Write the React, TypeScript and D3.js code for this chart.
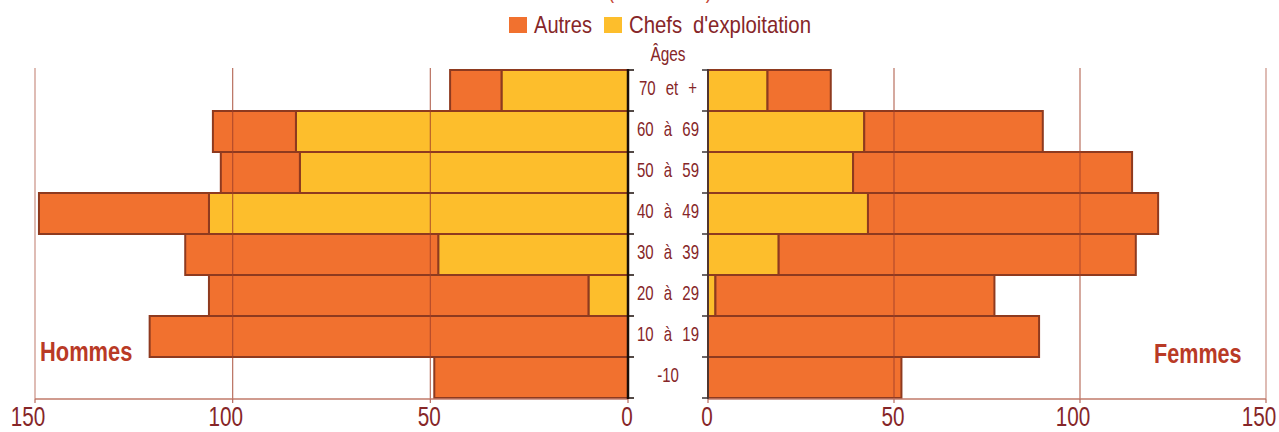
import React from "react";
import * as d3 from "d3";

const ages = ["70 et +", "60 à 69", "50 à 59", "40 à 49", "30 à 39", "20 à 29", "10 à 19", "-10"];
const hommesChefs = [32, 84, 83, 106, 48, 10, 0, 0];
const hommesAutres = [13, 21, 20, 43, 64, 96, 121, 49];
const femmesChefs = [16, 42, 39, 43, 19, 2, 0, 0];
const femmesAutres = [17, 48, 75, 78, 96, 75, 89, 52];
const xTicks = [0, 50, 100, 150];
const legendLabels = ["Autres", "Chefs d'exploitation"];
const titleText = "(en nombre)";

const W = 1279;
const H = 432;
const ORANGE = "#f1712f";
const YELLOW = "#fdbe2c";
const STROKE = "#8e3a1f";
const TXT = "#862628";
const RED = "#b93a26";
const FONT = "'Liberation Sans', Arial, sans-serif";

type TProps = {
  x: number;
  y: number;
  sx: number;
  size: number;
  anchor?: string;
  fill?: string;
  bold?: boolean;
  ws?: number;
  children: React.ReactNode;
};

function T({ x, y, sx, size, anchor = "start", fill = TXT, bold = false, ws = 0, children }: TProps) {
  return (
    <text
      transform={`translate(${x},${y}) scale(${sx},1)`}
      textAnchor={anchor}
      fontFamily={FONT}
      fontSize={size}
      fontWeight={bold ? "bold" : "normal"}
      fill={fill}
      wordSpacing={ws}
    >
      {children}
    </text>
  );
}

export default function App() {
  const y = d3.scaleBand<string>().domain(ages).range([70, 398]).padding(0);
  const xL = d3.scaleLinear().domain([0, 150]).range([628, 35]);
  const xR = d3.scaleLinear().domain([0, 150]).range([708, 1266]);
  const bw = y.bandwidth();
  const gridTop = 68;
  const axisY = 399;
  const boundaries = ages.map((a) => y(a) as number).concat([y.range()[1]]);

  const leftBars: JSX.Element[] = [];
  const rightBars: JSX.Element[] = [];
  ages.forEach((a, i) => {
    const yy = y(a) as number;
    const hc = hommesChefs[i];
    const ha = hommesAutres[i];
    if (hc > 0)
      leftBars.push(
        <rect key={"hc" + i} x={xL(hc)} y={yy} width={xL(0) - xL(hc)} height={bw} fill={YELLOW} stroke={STROKE} strokeWidth={2} />
      );
    leftBars.push(
      <rect key={"ha" + i} x={xL(hc + ha)} y={yy} width={xL(hc) - xL(hc + ha)} height={bw} fill={ORANGE} stroke={STROKE} strokeWidth={2} />
    );
    const fc = femmesChefs[i];
    const fa = femmesAutres[i];
    if (fc > 0)
      rightBars.push(
        <rect key={"fc" + i} x={xR(0)} y={yy} width={xR(fc) - xR(0)} height={bw} fill={YELLOW} stroke={STROKE} strokeWidth={2} />
      );
    rightBars.push(
      <rect key={"fa" + i} x={xR(fc)} y={yy} width={xR(fc + fa) - xR(fc)} height={bw} fill={ORANGE} stroke={STROKE} strokeWidth={2} />
    );
  });

  const grid = (scale: d3.ScaleLinear<number, number>, side: string) =>
    xTicks
      .filter((t) => t > 0)
      .map((t) => (
        <line
          key={side + t}
          x1={scale(t)}
          x2={scale(t)}
          y1={gridTop}
          y2={axisY}
          stroke={t === 150 ? "#c98f83" : "#a2402a"}
          strokeOpacity={t === 150 ? 1 : 0.75}
          strokeWidth={1.2}
        />
      ));

  const tickLabels = (scale: d3.ScaleLinear<number, number>, side: string) =>
    xTicks.map((t) => (
      <g key={side + "t" + t}>
        <line x1={scale(t)} x2={scale(t)} y1={axisY} y2={axisY + 4} stroke="#b86a5c" strokeWidth={1.2} />
        <T x={scale(t) - (t >= 100 ? 7 : 1)} y={426} sx={0.74} size={28} anchor="middle">
          {t}
        </T>
      </g>
    ));

  return (
    <svg width={W} height={H} style={{ position: "absolute", left: 0, top: 0, display: "block", background: "#fff" }}>
      <T x={660} y={-2} sx={0.8} size={24} anchor="middle" fill="#c64634">
        {titleText}
      </T>

      {/* legend */}
      <rect x={509} y={17} width={18} height={16} fill={ORANGE} />
      <text x={534} y={33} fontFamily={FONT} fontSize={24} fill={TXT} textLength={58} lengthAdjust="spacingAndGlyphs">
        {legendLabels[0]}
      </text>
      <rect x={604} y={17} width={18} height={16} fill={YELLOW} />
      <text x={629} y={33} fontFamily={FONT} fontSize={24} fill={TXT} wordSpacing={6} textLength={182} lengthAdjust="spacingAndGlyphs">
        {legendLabels[1]}
      </text>

      <T x={668} y={61} sx={0.77} size={20} anchor="middle">
        Âges
      </T>

      {leftBars}
      {rightBars}
      {grid(xL, "L")}
      {grid(xR, "R")}

      {/* bottom axes */}
      <line x1={xL(150)} x2={xL(0)} y1={axisY} y2={axisY} stroke="#c07a6a" strokeWidth={1.5} />
      <line x1={xR(0)} x2={xR(150)} y1={axisY} y2={axisY} stroke="#c07a6a" strokeWidth={1.5} />
      {tickLabels(xL, "L")}
      {tickLabels(xR, "R")}

      {/* central axes */}
      <line x1={xL(0)} x2={xL(0)} y1={69} y2={axisY} stroke="#1a0d08" strokeWidth={2.5} />
      {boundaries.map((b, i) => (
        <line key={"lt" + i} x1={xL(0)} x2={xL(0) + 6} y1={b} y2={b} stroke="#1a0d08" strokeWidth={1.5} />
      ))}
      <line x1={xR(0)} x2={xR(0)} y1={69} y2={axisY} stroke="#3d3535" strokeWidth={1.5} />
      {boundaries.map((b, i) => (
        <line key={"rt" + i} x1={xR(0) - 6} x2={xR(0)} y1={b} y2={b} stroke="#3d3535" strokeWidth={1.5} />
      ))}

      {/* category labels */}
      {ages.map((a) => (
        <T key={"c" + a} x={668} y={(y(a) as number) + bw / 2 + 4} sx={0.75} size={20} anchor="middle" ws={8}>
          {a}
        </T>
      ))}

      <T x={40} y={361} sx={0.81} size={27} bold fill={RED}>
        Hommes
      </T>
      <T x={1154} y={363} sx={0.8} size={27} bold fill={RED}>
        Femmes
      </T>
    </svg>
  );
}
